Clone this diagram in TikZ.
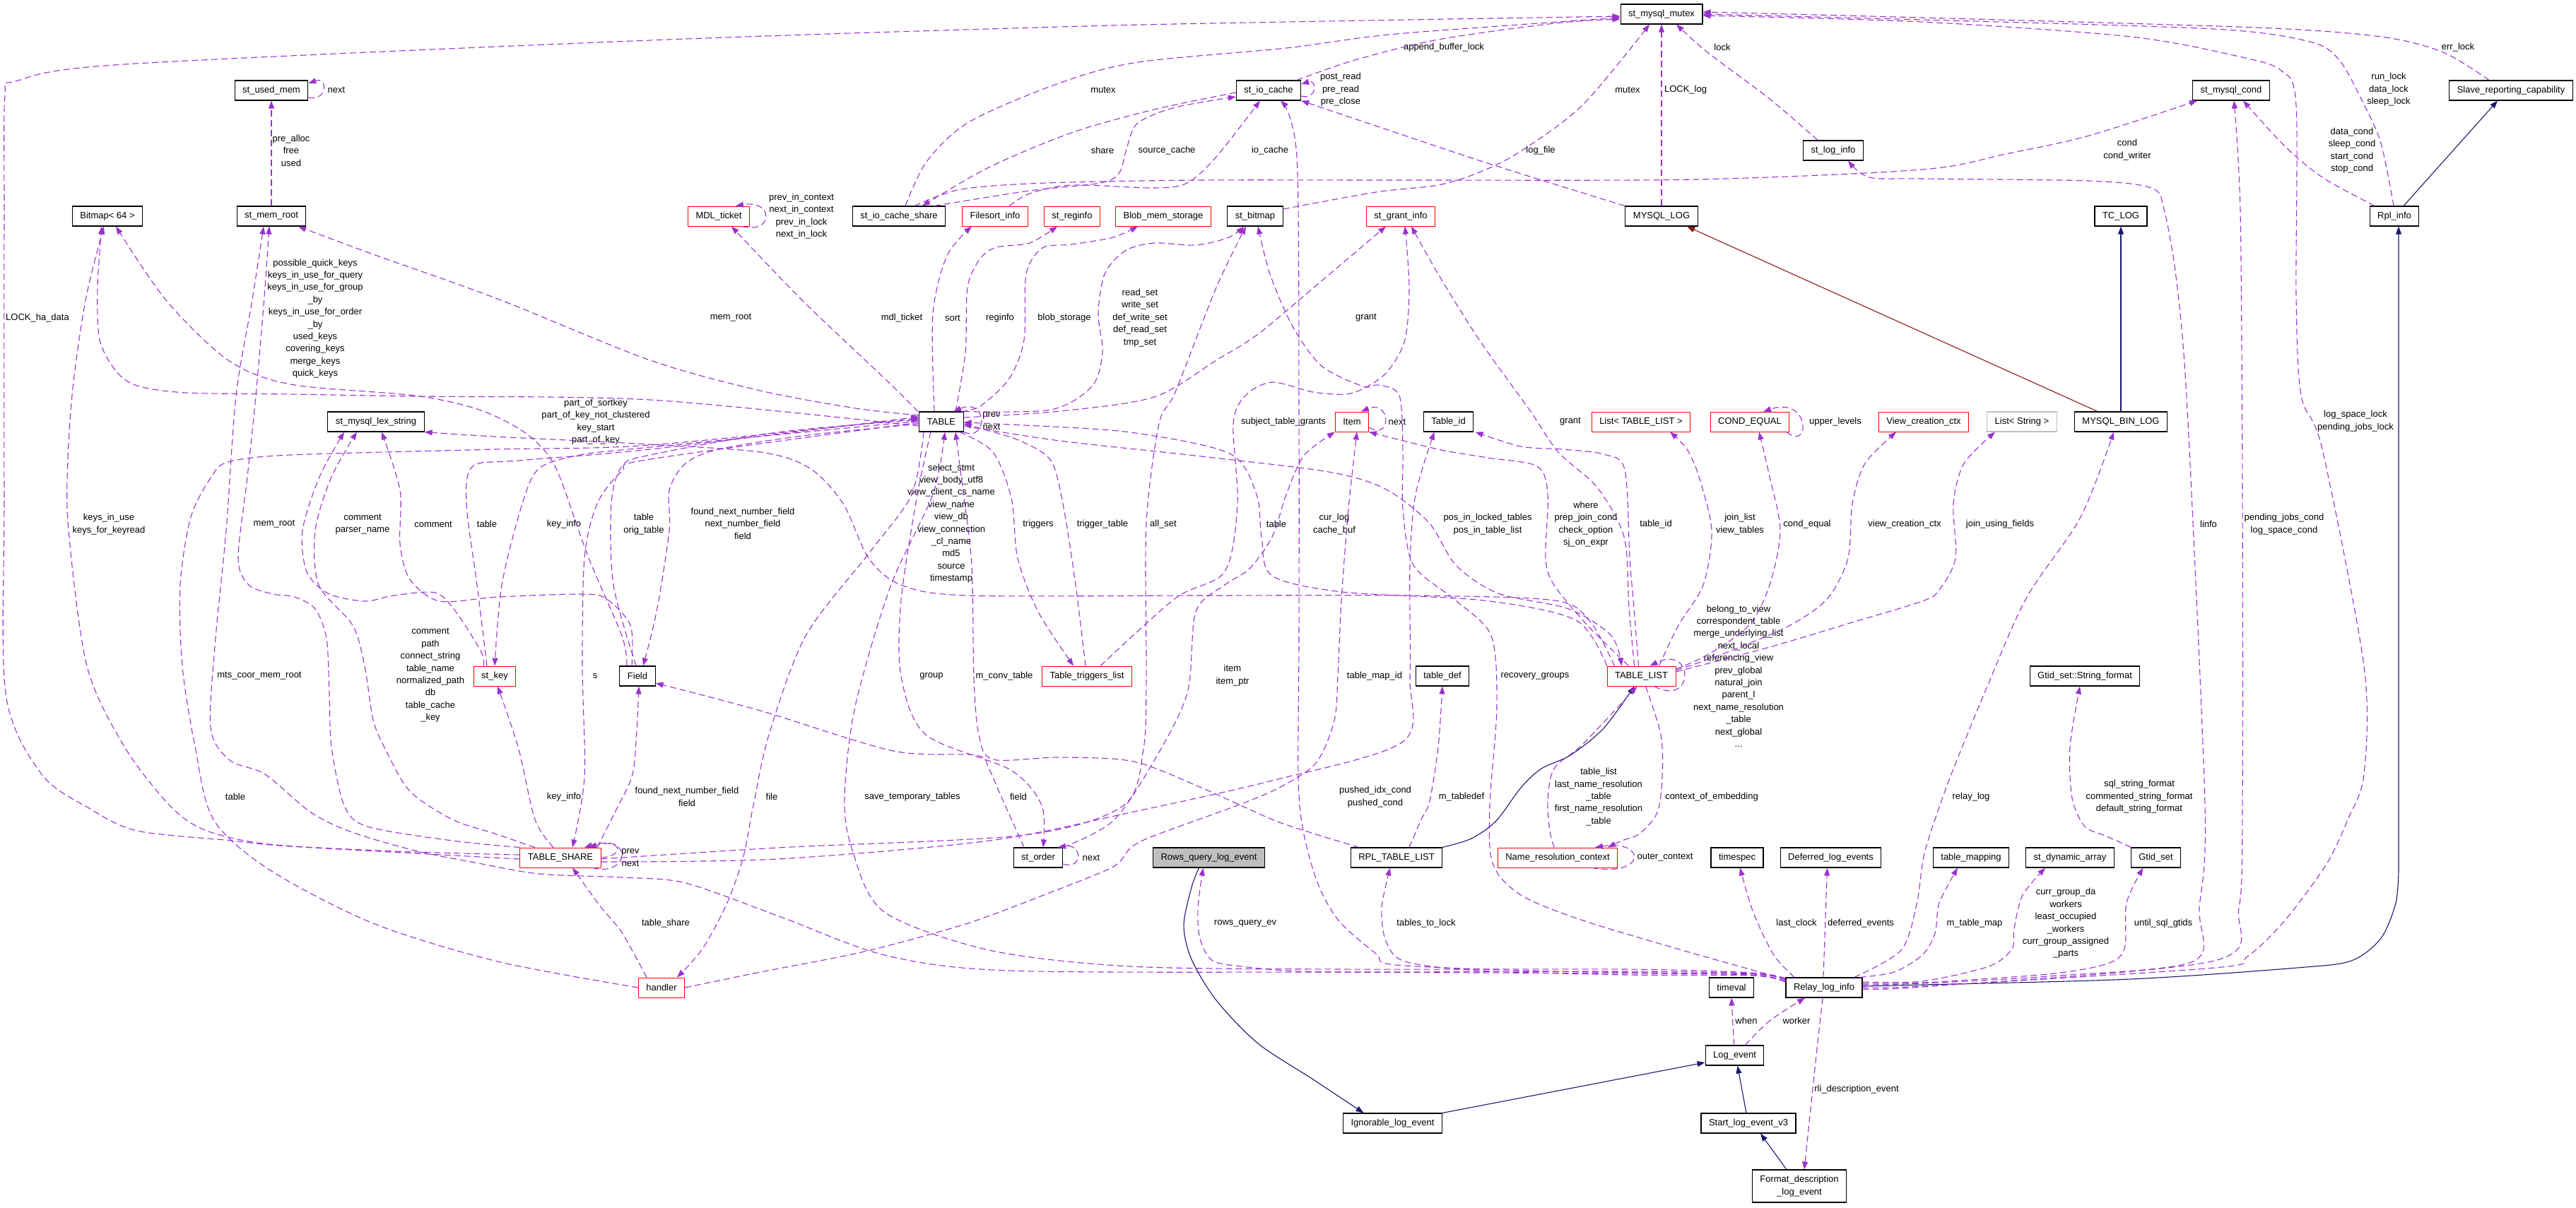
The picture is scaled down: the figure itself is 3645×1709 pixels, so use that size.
\documentclass[tikz,border=0pt]{standalone}
\usepackage{fontspec}
\setmainfont{Liberation Sans}
\usetikzlibrary{arrows.meta}
\definecolor{depcol}{HTML}{9A32CD}
\definecolor{inhcol}{HTML}{191970}
\definecolor{protcol}{HTML}{8B1A1A}

\begin{document}
\begin{tikzpicture}[
  x=1pt, y=-1pt,
  font=\fontsize{13}{17.4}\selectfont,
  >={Triangle[length=11pt,width=8pt]},
  cls/.style={draw=black, line width=1.1pt, fill=white, minimum height=28pt, inner xsep=11pt, inner ysep=2pt},
  clsred/.style={cls, draw=red, line width=0.9pt},
  clsgray/.style={cls, draw=black!25},
  clsroot/.style={cls, fill=black!25},
  dep/.style={->, draw=depcol, line width=1.1pt, dash pattern=on 9pt off 5pt},
  inh/.style={->, draw=inhcol, line width=1.1pt},
  prot/.style={->, draw=protcol, line width=1.1pt},
  lbl/.style={align=center, inner sep=0pt}
]
\useasboundingbox (0,0) rectangle (3645,1709);

\node[cls] (usedmem) at (384,128) {st\_used\_mem};
\node[cls] (memroot) at (384,306) {st\_mem\_root};
\node[cls] (bitmap) at (152,306) {Bitmap< 64 >};
\node[clsred] (mdl) at (1017,306) {MDL\_ticket};
\node[cls] (iocs) at (1272,306) {st\_io\_cache\_share};
\node[clsred] (filesort) at (1408,306) {Filesort\_info};
\node[clsred] (reginfo) at (1517,306) {st\_reginfo};
\node[clsred] (blob) at (1646,306) {Blob\_mem\_storage};
\node[cls] (stbitmap) at (1776,306) {st\_bitmap};
\node[cls] (iocache) at (1795,128) {st\_io\_cache};
\node[cls] (mutex) at (2351,20) {st\_mysql\_mutex};
\node[clsred] (grantinfo) at (1982,306) {st\_grant\_info};
\node[cls] (mysqllog) at (2351,306) {MYSQL\_LOG};
\node[cls] (loginfo) at (2594,213) {st\_log\_info};
\node[cls] (mcond) at (3157,128) {st\_mysql\_cond};
\node[cls] (slave) at (3553,128) {Slave\_reporting\_capability};
\node[cls] (tclog) at (3001,306) {TC\_LOG};
\node[cls] (rplinfo) at (3388,306) {Rpl\_info};
\node[cls] (lexstr) at (532,597) {st\_mysql\_lex\_string};
\node[cls] (table) at (1332,597) {TABLE};
\node[clsred] (item) at (1913,597) {Item};
\node[cls] (tableid) at (2049.5,597) {Table\_id};
\node[clsred] (listtl) at (2322,597) {List< TABLE\_LIST >};
\node[clsred] (condeq) at (2476,597) {COND\_EQUAL};
\node[clsred] (viewctx) at (2722,597) {View\_creation\_ctx};
\node[clsgray] (liststr) at (2861,597) {List< String >};
\node[cls] (binlog) at (3001,597) {MYSQL\_BIN\_LOG};
\node[clsred] (stkey) at (700,957) {st\_key};
\node[cls] (field) at (902,957) {Field};
\node[clsred] (trigl) at (1538,957) {Table\_triggers\_list};
\node[clsred] (tablelist) at (2322.5,957) {TABLE\_LIST};
\node[cls] (tabledef) at (2041,957) {table\_def};
\node[cls] (gtidfmt) at (2950,957) {Gtid\_set::String\_format};
\node[clsred] (tshare) at (793,1214) {TABLE\_SHARE};
\node[clsred] (handler) at (936,1398) {handler};
\node[cls] (storder) at (1469,1214) {st\_order};
\node[clsroot] (rowsq) at (1710.5,1214) {Rows\_query\_log\_event};
\node[cls] (rpltl) at (1976,1214) {RPL\_TABLE\_LIST};
\node[clsred] (nrctx) at (2204,1214) {Name\_resolution\_context};
\node[cls] (timespec) at (2458,1214) {timespec};
\node[cls] (deferred) at (2590.5,1214) {Deferred\_log\_events};
\node[cls] (tmapping) at (2789,1214) {table\_mapping};
\node[cls] (dynarr) at (2929,1214) {st\_dynamic\_array};
\node[cls] (gtidset) at (3050.5,1214) {Gtid\_set};
\node[cls] (timeval) at (2450,1398) {timeval};
\node[cls] (rli) at (2581,1398) {Relay\_log\_info};
\node[cls] (logevent) at (2454.5,1494) {Log\_event};
\node[cls] (ignorable) at (1970.5,1590) {Ignorable\_log\_event};
\node[cls] (startv3) at (2474,1590) {Start\_log\_event\_v3};
\node[cls, align=center, minimum height=46pt] (fdle) at (2546,1679) {Format\_description\\\_log\_event};

\node[lbl] (lNextMem) at (476,127) {next};
\node[lbl] (lPreAlloc) at (412,213) {pre\_alloc\\free\\used};
\node[lbl] (lLockHa) at (53,450) {LOCK\_ha\_data};
\node[lbl] (lQuickKeys) at (446,451) {possible\_quick\_keys\\keys\_in\_use\_for\_query\\keys\_in\_use\_for\_group\\\_by\\keys\_in\_use\_for\_order\\\_by\\used\_keys\\covering\_keys\\merge\_keys\\quick\_keys};
\node[lbl] (lMutexA) at (1561,127) {mutex};
\node[lbl] (lShare) at (1560,213) {share};
\node[lbl] (lSource) at (1651,213) {source\_cache};
\node[lbl] (lIoCache) at (1797,213) {io\_cache};
\node[lbl] (lMdlLoop) at (1134,306) {prev\_in\_context\\next\_in\_context\\prev\_in\_lock\\next\_in\_lock};
\node[lbl] (lMemRootA) at (1034,450) {mem\_root};
\node[lbl] (lMdl) at (1276,450) {mdl\_ticket};
\node[lbl] (lSort) at (1348,450) {sort};
\node[lbl] (lRegInfo) at (1415,450) {reginfo};
\node[lbl] (lBlob) at (1506,450) {blob\_storage};
\node[lbl] (lReadSet) at (1613,450) {read\_set\\write\_set\\def\_write\_set\\def\_read\_set\\tmp\_set};
\node[lbl] (lAppend) at (2043,67) {append\_buffer\_lock};
\node[lbl] (lPostRead) at (1897,127) {post\_read\\pre\_read\\pre\_close};
\node[lbl] (lMutexB) at (2303,127) {mutex};
\node[lbl] (lLockLog) at (2385,127) {LOCK\_log};
\node[lbl] (lLock) at (2437,67) {lock};
\node[lbl] (lLogFile) at (2180,213) {log\_file};
\node[lbl] (lGrantA) at (1933,450) {grant};
\node[lbl] (lErrLock) at (3478,67) {err\_lock};
\node[lbl] (lRunLock) at (3380,127) {run\_lock\\data\_lock\\sleep\_lock};
\node[lbl] (lCond) at (3010,212) {cond\\cond\_writer};
\node[lbl] (lDataCond) at (3328,213) {data\_cond\\sleep\_cond\\start\_cond\\stop\_cond};
\node[lbl] (lPartKey) at (843,597) {part\_of\_sortkey\\part\_of\_key\_not\_clustered\\key\_start\\part\_of\_key};
\node[lbl] (lKeysInUse) at (154,742) {keys\_in\_use\\keys\_for\_keyread};
\node[lbl] (lMemRootB) at (388,742) {mem\_root};
\node[lbl] (lParser) at (513,742) {comment\\parser\_name};
\node[lbl] (lComment) at (613,742) {comment};
\node[lbl] (lTableA) at (689,742) {table};
\node[lbl] (lKeyInfoA) at (798,742) {key\_info};
\node[lbl] (lOrigTable) at (911,742) {table\\orig\_table};
\node[lbl] (lFoundA) at (1051,741) {found\_next\_number\_field\\next\_number\_field\\field};
\node[lbl] (lSelect) at (1346,741) {select\_stmt\\view\_body\_utf8\\view\_client\_cs\_name\\view\_name\\view\_db\\view\_connection\\\_cl\_name\\md5\\source\\timestamp};
\node[lbl] (lTriggers) at (1469,742) {triggers};
\node[lbl] (lTrigTable) at (1560,742) {trigger\_table};
\node[lbl] (lAllSet) at (1646,742) {all\_set};
\node[lbl] (lTableB) at (1806,742) {table};
\node[lbl] (lCurLog) at (1888,742) {cur\_log\\cache\_buf};
\node[lbl] (lPosIn) at (2105,742) {pos\_in\_locked\_tables\\pos\_in\_table\_list};
\node[lbl] (lWhere) at (2244,742) {where\\prep\_join\_cond\\check\_option\\sj\_on\_expr};
\node[lbl] (lTableId) at (2343,742) {table\_id};
\node[lbl] (lJoinList) at (2462,742) {join\_list\\view\_tables};
\node[lbl] (lCondEq) at (2557,742) {cond\_equal};
\node[lbl] (lViewCtx) at (2695,742) {view\_creation\_ctx};
\node[lbl] (lJoinUsing) at (2830,742) {join\_using\_fields};
\node[lbl] (lLinfo) at (3125,742) {linfo};
\node[lbl] (lPendCond) at (3232,742) {pending\_jobs\_cond\\log\_space\_cond};
\node[lbl] (lPrevNextT) at (1403,596) {prev\\next};
\node[lbl] (lSubject) at (1816,597) {subject\_table\_grants};
\node[lbl] (lNextItem) at (1977,597) {next};
\node[lbl] (lGrantB) at (2222,597) {grant};
\node[lbl] (lUpper) at (2597,597) {upper\_levels};
\node[lbl] (lLogSpace) at (3333,596) {log\_space\_lock\\pending\_jobs\_lock};
\node[lbl] (lBelong) at (2460,957) {belong\_to\_view\\correspondent\_table\\merge\_underlying\_list\\next\_local\\referencing\_view\\prev\_global\\natural\_join\\parent\_l\\next\_name\_resolution\\\_table\\next\_global\\...};
\node[lbl] (lPath) at (609,956) {comment\\path\\connect\_string\\table\_name\\normalized\_path\\db\\table\_cache\\\_key};
\node[lbl] (lMtsCoor) at (367,957) {mts\_coor\_mem\_root};
\node[lbl] (lShareS) at (842,957) {s};
\node[lbl] (lGroup) at (1318,957) {group};
\node[lbl] (lConvTable) at (1421,957) {m\_conv\_table};
\node[lbl] (lItemPtr) at (1744,956) {item\\item\_ptr};
\node[lbl] (lTableMapId) at (1945,957) {table\_map\_id};
\node[lbl] (lRecovery) at (2172,957) {recovery\_groups};
\node[lbl] (lTableC) at (333,1128) {table};
\node[lbl] (lKeyInfoB) at (798,1128) {key\_info};
\node[lbl] (lFoundB) at (972,1128) {found\_next\_number\_field\\field};
\node[lbl] (lFile) at (1092,1128) {file};
\node[lbl] (lSaveTmp) at (1291,1128) {save\_temporary\_tables};
\node[lbl] (lField) at (1441,1128) {field};
\node[lbl] (lPushed) at (1946,1128) {pushed\_idx\_cond\\pushed\_cond};
\node[lbl] (lTableDef) at (2068,1128) {m\_tabledef};
\node[lbl] (lTableList) at (2262,1128) {table\_list\\last\_name\_resolution\\\_table\\first\_name\_resolution\\\_table};
\node[lbl] (lContext) at (2422,1128) {context\_of\_embedding};
\node[lbl] (lRelayLog) at (2789,1128) {relay\_log};
\node[lbl] (lStrFormat) at (3027,1128) {sql\_string\_format\\commented\_string\_format\\default\_string\_format};
\node[lbl] (lPrevNextS) at (892,1214) {prev\\next};
\node[lbl] (lNextOrder) at (1544,1214) {next};
\node[lbl] (lOuter) at (2356,1214) {outer\_context};
\node[lbl] (lTableShare) at (942,1307) {table\_share};
\node[lbl] (lRowsQuery) at (1762,1307) {rows\_query\_ev};
\node[lbl] (lToLock) at (2018,1307) {tables\_to\_lock};
\node[lbl] (lLastClock) at (2542,1307) {last\_clock};
\node[lbl] (lDeferred) at (2633,1307) {deferred\_events};
\node[lbl] (lTableMap) at (2794,1307) {m\_table\_map};
\node[lbl] (lCurrGroup) at (2923,1307) {curr\_group\_da\\workers\\least\_occupied\\\_workers\\curr\_group\_assigned\\\_parts};
\node[lbl] (lUntil) at (3061,1307) {until\_sql\_gtids};
\node[lbl] (lWhen) at (2471,1445) {when};
\node[lbl] (lWorker) at (2542,1445) {worker};
\node[lbl] (lRliDesc) at (2627,1542) {rli\_description\_event};

% inheritance
\draw[inh] plot[smooth] coordinates {([xshift=-14pt]rowsq.south) (1686,1256) (1675,1310) (1686,1358) (1721,1416) (1780,1477) (1858,1528) ([xshift=-41pt]ignorable.north)};
\draw[inh] (ignorable.north east) -- ([yshift=-10pt]logevent.west);
\draw[inh] ([xshift=-3pt]startv3.north) -- ([xshift=4pt]logevent.south);
\draw[inh] ([xshift=-18pt]fdle.north) -- ([xshift=17pt]startv3.south);
\draw[inh] plot[smooth] coordinates {([yshift=2pt]rli.east) (2720,1394) (3015,1386) (3250,1370) (3327,1360) (3369,1328) (3390,1278) (3394,1231)} -- ([xshift=6pt]rplinfo.south);
\draw[inh] ([xshift=13pt]rplinfo.north) -- ([xshift=-19pt]slave.south);
\draw[inh] (binlog.north) -- (tclog.south);
\draw[prot] ([xshift=-33pt]binlog.north) -- ([xshift=36pt]mysqllog.south);
\draw[inh] plot[smooth] coordinates {([xshift=65pt]rpltl.north) (2082,1187) (2117,1162) (2152,1115) (2181,1088) (2222,1069) (2269,1031) ([xshift=-10pt]tablelist.south)};

% members
\draw[dep] ([yshift=-10pt]usedmem.east) .. controls (464,144) and (464,108) .. ([yshift=10pt]usedmem.east);
\draw[dep] (memroot.north) -- (usedmem.south);
\draw[dep] plot[smooth] coordinates {([yshift=9pt]table.west) (1211,578) (1076,553) (920,510) (704,423) (528,360) ([xshift=38pt]memroot.south)};
\draw[dep] plot[smooth] coordinates {(tshare.north west) (640,1190) (520,1170) (487,1140) (469,1057) (466,981) (462,904) (446,862) (417,845) (387,841) (352,828) (337,790) (350,675) (362,560) (374,420) ([xshift=-3pt]memroot.south)};
\draw[dep] plot[smooth] coordinates {([yshift=11pt]rli.west) (2480,1378) (2300,1375) (1900,1376) (1428,1374) (1252,1352) (1105,1298) (970,1250) (880,1242) (763,1237) (677,1222) (587,1204) (498,1178) (440,1150) (375,1096) (325,1076) (298,1030) (305,904) (320,751) (334,560) (356,430) ([xshift=-11pt]memroot.south)};
\draw[dep] plot[smooth] coordinates {([yshift=-6pt]table.west) (920,566) (587,561) (411,558) (264,556) (194,546) (164,525) (141,481) (138,407) ([xshift=-8pt]bitmap.south)};
\draw[dep] plot[smooth] coordinates {([yshift=4pt]tshare.west) (560,1205) (380,1195) (290,1175) (240,1140) (176,1057) (123,943) (97,751) (96,650) (104,540) (122,420) ([xshift=-5pt]bitmap.south)};
\draw[dep] plot[smooth] coordinates {([xshift=-15pt]field.north) (880,900) (833,790) (792,675) (769,636) (733,606) (675,579) (587,560) (411,544) (323,510) (235,425) ([xshift=12pt]bitmap.south)};
\draw[dep] plot[smooth] coordinates {([yshift=-2pt]tshare.west) (411,1198) (329,1190) (194,1176) (126,1144) (59,1096) (8,981) (6,700) (6,300) (7,135) (22,115) (176,91) (920,57) (1500,38) (1820,31) ([yshift=-3pt]mutex.west)};
\draw[dep] plot[smooth] coordinates {([xshift=9pt]iocs.north) (1311,229) (1369,174) (1487,122) (1604,89) (1820,68) (1976,48) ([yshift=-5pt]mutex.west)};
\draw[dep] plot[smooth] coordinates {([xshift=40pt]iocache.north) (1917,85) (2035,56) (2200,33) ([yshift=-7pt]mutex.west)};
\draw[dep] plot[smooth] coordinates {([yshift=10pt]stbitmap.east) (1947,272) (2035,262) (2093,244) (2152,214) (2240,148) ([xshift=-17pt]mutex.south)};
\draw[dep] (mysqllog.north) -- (mutex.south);
\draw[dep] plot[smooth] coordinates {([xshift=-22pt]loginfo.north) (2504,140) (2416,74) ([xshift=21pt]mutex.south)};
\draw[dep] plot[smooth] coordinates {(rli.east) (2720,1396) (3133,1370) (3180,1354) (3233,1303) (3292,1223) (3322,1160) (3345,1096) (3345,943) (3286,636) (3256,560) (3249,420) (3249,150) (3228,100) (3168,80) (3015,52) (2720,31) ([yshift=-2pt]mutex.east)};
\draw[dep] plot[smooth] coordinates {([xshift=-1pt]rplinfo.north) (3369,203) (3345,148) (3310,85) (3268,59) (3133,41) (2720,28) (mutex.east)};
\draw[dep] plot[smooth] coordinates {([xshift=-31pt]slave.north) (3457,74) (3369,52) (3192,39) (2720,25) ([yshift=3pt]mutex.east)};
\draw[dep] plot[smooth] coordinates {([xshift=-33pt]table.north) (1252,536) (1135,425) ([xshift=18pt]mdl.south)};
\draw[dep] ([xshift=33pt]mdl.south) .. controls (1095,332) and (1095,282) .. ([xshift=24pt]mdl.north);
\draw[dep] plot[smooth] coordinates {([yshift=-3pt]iocache.west) (1633,155) (1516,188) (1399,237) ([xshift=33pt]iocs.north)};
\draw[dep] plot[smooth] coordinates {([xshift=50pt]iocs.north) (1457,270) (1557,259) (1584,244) (1595,207) (1610,174) (1663,152) ([yshift=-9pt]iocache.west)};
\draw[dep] plot[smooth] coordinates {([xshift=20pt]filesort.north) (1457,274) (1516,262) (1633,266) (1680,259) (1721,222) ([xshift=-12pt]iocache.south)};
\draw[dep] ([yshift=-8pt]iocache.east) .. controls (1864,142) and (1864,112) .. ([yshift=9pt]iocache.east);
\draw[dep] plot[smooth] coordinates {([xshift=-52pt]mysqllog.north) (2111,233) (1967,185) (iocache.south east)};
\draw[dep] plot[smooth] coordinates {([yshift=10pt]rli.west) (2480,1379) (2200,1375) (1976,1366) (1947,1350) (1894,1303) (1864,1249) (1844,1176) (1837,1100) (1838,900) (1838,580) (1835,222) ([xshift=17pt]iocache.south)};
\draw[dep] plot[smooth] coordinates {([xshift=-10pt]table.north) (1320,444) (1340,362) ([xshift=-33pt]filesort.south)};
\draw[dep] plot[smooth] coordinates {([xshift=20pt]table.north) (1366,499) (1369,407) (1387,366) (1410,350) (1457,344) ([xshift=-21pt]reginfo.south)};
\draw[dep] plot[smooth] coordinates {([xshift=28pt]table.north) (1387,575) (1428,536) (1449,481) (1452,388) (1475,351) (1516,346) (1575,336) ([xshift=-36pt]blob.south)};
\draw[dep] plot[smooth] coordinates {(table.north east) (1487,580) (1545,547) (1560,499) (1554,444) (1563,388) (1592,355) (1633,344) (1692,347) (1739,336) ([xshift=-16pt]stbitmap.south)};
\draw[dep] plot[smooth] coordinates {([yshift=-2pt]tshare.east) (1100,1200) (1450,1182) (1590,1140) (1618,1060) (1622,960) (1622,742) (1640,600) (1663,555) (1721,407) ([xshift=-13pt]stbitmap.south)};
\draw[dep] plot[smooth] coordinates {([yshift=12pt]rli.west) (2387,1347) (2240,1303) (2152,1267) (2112,1222) (2108,1140) (2118,1000) (2110,900) (2060,850) (2000,800) (1985,720) (1985,640) (1980,560) (1950,545) (1929,547) (1870,518) (1829,462) (1797,388) ([xshift=4pt]stbitmap.south)};
\draw[dep] plot[smooth] coordinates {([yshift=6pt]table.east) (1500,582) (1633,562) (1721,510) (1780,473) (1859,407) ([xshift=-21pt]grantinfo.south)};
\draw[dep] plot[smooth] coordinates {([xshift=19pt]trigl.north) (1663,847) (1733,809) (1751,713) (1745,600) (1762,560) (1800,541) (1858,555) (1905,558) (1935,547) (1964,525) (1988,481) (1994,407) ([xshift=6pt]grantinfo.south)};
\draw[dep] plot[smooth] coordinates {([xshift=-10pt]tablelist.north) (2305,860) (2298,760) (2260,690) (2205,640) (2164,580) (2093,481) (2035,388) ([xshift=15pt]grantinfo.south)};
\draw[dep] plot[smooth] coordinates {([xshift=22pt]iocs.north) (1360,268) (1480,259) (1700,255) (2000,255) (2400,254) (2720,240) (2838,218) (2956,192) ([xshift=-48pt]mcond.south)};
\draw[dep] plot[smooth] coordinates {([yshift=-2pt]rli.east) (2720,1397) (3133,1360) (3168,1285) (3173,1140) (3173,700) (3170,300) ([xshift=4pt]mcond.south)};
\draw[dep] plot[smooth] coordinates {([xshift=-28pt]rplinfo.north) (3286,251) (3233,207) ([xshift=17pt]mcond.south)};
\draw[dep] plot[smooth] coordinates {([yshift=4pt]rli.east) (2720,1392) (2897,1382) (3103,1361) (3112,1285) (3120,1140) (3095,580) (3080,400) (3062,296) (3044,266) (2955,256) (2720,253) (2645,251) ([xshift=21pt]loginfo.south)};
\draw[dep] plot[smooth] coordinates {([xshift=-36pt]tshare.north) (700,1180) (640,1160) (580,1120) (545,1060) (528,1019) (516,943) (499,885) (451,828) (446,751) (469,675) ([xshift=-27pt]lexstr.south)};
\draw[dep] plot[smooth] coordinates {([xshift=-16pt]stkey.north) (681,923) (645,866) (616,839) (557,843) (516,851) (464,840) (434,809) (428,751) (452,675) ([xshift=-45pt]lexstr.south)};
\draw[dep] plot[smooth] coordinates {([xshift=-8pt]field.north) (892,885) (857,847) (821,841) (704,845) (622,851) (580,820) (566,770) (566,694) ([xshift=8pt]lexstr.south)};
\draw[dep] plot[smooth] coordinates {([xshift=-38pt]tablelist.north) (2250,880) (2200,850) (2000,843) (1700,843) (1369,843) (1275,828) (1229,790) (1193,713) (1146,663) (1076,640) (900,628) (700,618) (lexstr.south east)};
\draw[dep] plot[smooth] coordinates {([xshift=-10pt]tshare.north) (757,1160) (733,1057) ([xshift=4pt]stkey.south)};
\draw[dep] plot[smooth] coordinates {([yshift=1pt]table.west) (920,633) (821,644) (763,663) (739,713) (710,828) (stkey.north)};
\draw[dep] plot[smooth] coordinates {([xshift=-11pt]stkey.north) (675,828) (660,713) (669,660) (733,652) (920,636) ([yshift=7pt]table.west)};
\draw[dep] plot[smooth] coordinates {([xshift=-2pt]field.north) (868,828) (865,713) (880,660) (920,644) (1100,612) ([yshift=3pt]table.west)};
\draw[dep] plot[smooth] coordinates {([yshift=-3pt]table.west) (1135,617) (1017,636) (970,656) (947,694) (947,751) (929,866) ([xshift=8pt]field.north)};
\draw[dep] plot[smooth] coordinates {([xshift=52pt]tshare.north) (870,1150) (894,1100) (900,1050) ([xshift=2pt]field.south)};
\draw[dep] plot[smooth] coordinates {([yshift=-1pt]table.west) (920,650) (880,667) (845,713) (827,790) (824,943) (827,1100) ([xshift=17pt]tshare.north)};
\draw[dep] (tshare.east) .. controls (885,1212) and (880,1186) .. ([xshift=40pt]tshare.north);
\draw[dep] ([xshift=45pt]tshare.south) .. controls (892,1242) and (896,1178) .. ([xshift=34pt]tshare.north);
\draw[dep] plot[smooth] coordinates {([xshift=-21pt]handler.north) (880,1320) (851,1285) ([xshift=17pt]tshare.south)};
\draw[dep] plot[smooth] coordinates {(handler.west) (704,1361) (528,1307) (381,1231) (302,1160) (276,1057) (258,943) (255,828) (270,732) (299,675) (323,654) (411,644) (700,636) (920,630) ([yshift=5pt]table.west)};
\draw[dep] plot[smooth] coordinates {([xshift=-25pt]table.south) (1290,700) (1232,780) (1140,900) (1088,1040) (1066,1140) (1052,1212) (1029,1278) (994,1343) ([xshift=22pt]handler.north)};
\draw[dep] plot[smooth] coordinates {([xshift=-15pt]table.south) (1298,700) (1275,850) (1275,957) (1310,1040) (1430,1090) (1474,1140) ([xshift=7pt]storder.north)};
\draw[dep] ([yshift=-9pt]storder.east) .. controls (1532,1232) and (1532,1194) .. ([xshift=28pt]storder.north);
\draw[dep] plot[smooth] coordinates {(storder.north east) (1575,1162) (1633,1077) (1680,981) (1692,866) (1733,828) (1768,805) (1800,760) (1820,700) (1845,645) (item.south west)};
\draw[dep] plot[smooth] coordinates {([xshift=-20pt]storder.north) (1416,1126) (1399,1088) (1381,1069) (1264,1063) (1076,1006) ([yshift=-10pt]field.east)};
\draw[dep] plot[smooth] coordinates {([xshift=-2pt]trigl.north) (1522,828) (1504,713) (1487,652) (1446,625) (1400,610) ([yshift=-3pt]table.east)};
\draw[dep] plot[smooth] coordinates {([xshift=26pt]table.south) (1405,640) (1431,705) (1440,790) (1469,866) ([xshift=-19pt]trigl.north)};
\draw[dep] (table.south east) .. controls (1398,626) and (1398,562) .. ([xshift=17pt]table.north);
\draw[dep] plot[smooth] coordinates {(tablelist.north west) (2230,878) (2100,850) (1900,838) (1800,815) (1785,760) (1778,700) (1740,642) (1600,612) (1450,602) ([yshift=-1pt]table.east)};
\draw[dep] plot[smooth] coordinates {([yshift=-6pt]table.east) (1500,624) (1700,646) (1880,668) (1960,692) (2022,740) (2060,800) (2120,840) (2220,862) (2280,900) ([xshift=-28pt]tablelist.north)};
\draw[dep] plot[smooth] coordinates {([xshift=-18pt]tablelist.north) (2246,885) (2199,828) (2187,790) (2190,700) (2175,660) (2105,648) (2035,636) (item.south east)};
\draw[dep] plot[smooth] coordinates {([xshift=-4pt]tablelist.north) (2312,860) (2306,790) (2299,665) (2269,643) (2211,636) (2152,632) ([xshift=38pt]tableid.south)};
\draw[dep] ([yshift=-8pt]item.east) .. controls (1970,625) and (1968,565) .. ([xshift=13pt]item.north);
\draw[dep] plot[smooth] coordinates {([xshift=25pt]tablelist.north) (2375,885) (2410,828) (2422,751) (2404,675) (2387,636) ([xshift=41pt]listtl.south)};
\draw[dep] plot[smooth] coordinates {([yshift=10pt]tablelist.east) (2416,927) (2475,885) (2504,828) (2519,751) (2504,675) ([xshift=13pt]condeq.south)};
\draw[dep] ([xshift=52pt]condeq.south) .. controls (2562,640) and (2562,560) .. ([xshift=19pt]condeq.north);
\draw[dep] plot[smooth] coordinates {([yshift=8pt]tablelist.east) (2445,923) (2533,885) (2586,847) (2615,790) (2621,713) (2639,656) ([xshift=-39pt]viewctx.south)};
\draw[dep] plot[smooth] coordinates {([yshift=6pt]tablelist.east) (2504,916) (2621,881) (2720,851) (2744,835) (2767,790) (2764,713) (2779,656) ([xshift=-38pt]liststr.south)};
\draw[dep] ([xshift=18pt]tablelist.south) .. controls (2398,1002) and (2398,912) .. ([xshift=12pt]tablelist.north);
\draw[dep] plot[smooth] coordinates {([xshift=6pt]tablelist.south) (2350,1040) (2352,1100) (2345,1150) (2320,1180) (2295,1190) ([xshift=71pt]nrctx.north)};
\draw[dep] plot[smooth] coordinates {([xshift=-5pt]nrctx.north) (2193,1176) (2190,1134) (2199,1088) (2240,1053) ([xshift=-6pt]tablelist.south)};
\draw[dep] ([xshift=48pt]nrctx.south) .. controls (2330,1242) and (2330,1188) .. ([xshift=53pt]nrctx.north);
\draw[dep] plot[smooth] coordinates {([yshift=-6pt]tshare.east) (1100,1216) (1400,1190) (1600,1150) (1800,1105) (1985,1050) (1995,957) (1995,800) (2003,700) ([xshift=-20pt]tableid.south)};
\draw[dep] plot[smooth] coordinates {(handler.east) (1076,1376) (1223,1347) (1369,1307) (1487,1263) (1575,1227) (1600,1200) (1633,1183) (1751,1140) (1810,1115) (1862,1080) (1888,1020) (1893,957) (1898,850) (1908,720) ([xshift=7pt]item.south)};
\draw[dep] plot[smooth] coordinates {([xshift=-53pt]rpltl.north) (1859,1180) (1800,1160) (1700,1115) (1604,1078) (1500,1072) (1405,1075) (1385,1040) (1378,960) (1375,800) (1362,690) ([xshift=20pt]table.south)};
\draw[dep] plot[smooth] coordinates {([yshift=13pt]rli.west) (2480,1377) (2300,1372) (1900,1372) (1600,1368) (1400,1345) (1250,1290) (1205,1200) (1195,1128) (1210,1000) (1260,830) (1320,700) ([xshift=5pt]table.south)};
\draw[dep] plot[smooth] coordinates {([yshift=9pt]rli.west) (2480,1380) (2300,1378) (1900,1376) (1820,1374) (1757,1368) (1716,1360) (1698,1329) (1695,1285) ([xshift=-8pt]rowsq.south)};
\draw[dep] plot[smooth] coordinates {([yshift=8pt]rli.west) (2480,1381) (2300,1380) (2093,1374) (1988,1361) (1961,1332) (1955,1285) ([xshift=-9pt]rpltl.south)};
\draw[dep] plot[smooth] coordinates {([xshift=18pt]rpltl.north) (2011,1160) (2023,1134) (2035,1057) (tabledef.south)};
\draw[dep] plot[smooth] coordinates {([xshift=-42pt]rli.north) (2510,1352) (2481,1292) ([xshift=4pt]timespec.south)};
\draw[dep] ([xshift=-1pt]rli.north) -- ([xshift=-5pt]deferred.south);
\draw[dep] plot[smooth] coordinates {([xshift=-4pt]rli.north east) (2680,1376) (2720,1352) (2738,1321) (2744,1278) ([xshift=-19pt]tmapping.south)};
\draw[dep] plot[smooth] coordinates {([xshift=-12pt]rli.north east) (2690,1345) (2712,1280) (2722,1212) (2738,1160) (2761,1096) (2808,981) (2867,847) (2944,732) ([xshift=-10pt]binlog.south)};
\draw[dep] plot[smooth] coordinates {([yshift=8pt]rli.east) (2720,1389) (2814,1368) (2847,1343) (2850,1314) (2862,1267) ([xshift=-35pt]dynarr.south)};
\draw[dep] plot[smooth] coordinates {([yshift=6pt]rli.east) (2720,1391) (2897,1379) (2979,1365) (3006,1343) (3009,1278) ([xshift=-18pt]gtidset.south)};
\draw[dep] plot[smooth] coordinates {([xshift=-35pt]gtidset.north) (2979,1183) (2950,1170) (2932,1130) (2929,1057) ([xshift=-7pt]gtidfmt.south)};
\draw[dep] ([xshift=-1pt]logevent.north) -- (timeval.south);
\draw[dep] plot[smooth] coordinates {([xshift=15pt]logevent.north) (2504,1445) ([xshift=-27pt]rli.south)};
\draw[dep] plot[smooth] coordinates {([xshift=-2pt]rli.south) (2569,1503) ([xshift=7pt]fdle.north)};
\end{tikzpicture}
\end{document}
